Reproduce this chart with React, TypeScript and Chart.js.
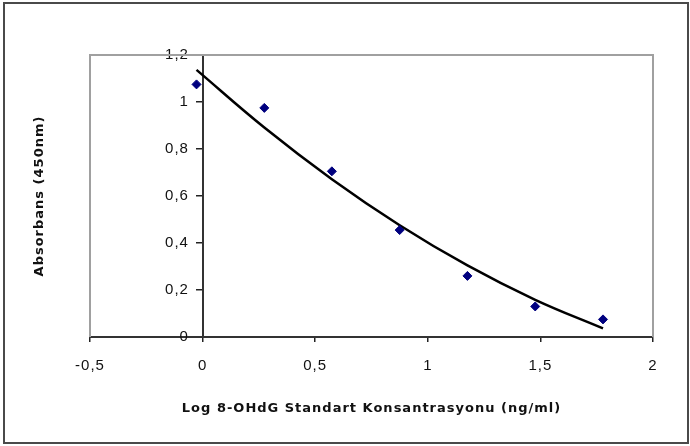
import { useEffect, useRef } from 'react';
import { Chart, registerables } from 'chart.js';

Chart.register(...registerables);

// Log concentration (ng/ml) of the standards and their absorbance at 450nm
const logConcentration = [-0.027, 0.274, 0.574, 0.875, 1.176, 1.477, 1.778];
const absorbance = [1.075, 0.975, 0.705, 0.455, 0.26, 0.13, 0.075];

const xTickValues = [-0.5, 0, 0.5, 1, 1.5, 2];
const yTickValues = [0, 0.2, 0.4, 0.6, 0.8, 1, 1.2];

const xTitle = 'Log 8-OHdG Standart Konsantrasyonu (ng/ml)';
const yTitle = 'Absorbans (450nm)';

// Second-order polynomial trendline (least squares) from the data above
function quadraticFit(xs: number[], ys: number[]) {
  let s0 = 0, s1 = 0, s2 = 0, s3 = 0, s4 = 0, t0 = 0, t1 = 0, t2 = 0;
  for (let i = 0; i < xs.length; i++) {
    const x = xs[i], y = ys[i];
    s0 += 1; s1 += x; s2 += x * x; s3 += x * x * x; s4 += x * x * x * x;
    t0 += y; t1 += x * y; t2 += x * x * y;
  }
  const m = [
    [s0, s1, s2, t0],
    [s1, s2, s3, t1],
    [s2, s3, s4, t2],
  ];
  for (let c = 0; c < 3; c++) {
    for (let r = c + 1; r < 3; r++) {
      const f = m[r][c] / m[c][c];
      for (let k = c; k < 4; k++) m[r][k] -= f * m[c][k];
    }
  }
  const sol = [0, 0, 0];
  for (let r = 2; r >= 0; r--) {
    let v = m[r][3];
    for (let k = r + 1; k < 3; k++) v -= m[r][k] * sol[k];
    sol[r] = v / m[r][r];
  }
  return (x: number) => sol[0] + sol[1] * x + sol[2] * x * x;
}

const fmt = (v: number) => {
  const s = Number(v.toFixed(1)).toString();
  return s.replace('.', ',');
};

const TICK_FONT = 'Liberation Sans, Arial, sans-serif';
const TITLE_FONT = 'DejaVu Sans, Verdana, sans-serif';

export default function App() {
  const ref = useRef<HTMLCanvasElement>(null);

  useEffect(() => {
    document.body.style.margin = '0';
    const fit = quadraticFit(logConcentration, absorbance);
    const trend = logConcentration.map((x) => ({ x, y: fit(x) }));
    const points = logConcentration.map((x, i) => ({ x, y: absorbance[i] }));

    const setSpacing = (chart: any) => {
      (chart.ctx as any).letterSpacing = '1px';
    };

    const framePlugin = {
      id: 'frame',
      beforeUpdate: setSpacing,
      beforeDraw: setSpacing,
      beforeDatasetsDraw(chart: any) {
        const { ctx, chartArea: a } = chart;
        ctx.save();
        ctx.strokeStyle = '#a0a0a0';
        ctx.lineWidth = 2;
        ctx.beginPath();
        ctx.moveTo(a.left, a.bottom);
        ctx.lineTo(a.left, a.top);
        ctx.lineTo(a.right, a.top);
        ctx.lineTo(a.right, a.bottom);
        ctx.stroke();
        ctx.restore();
      },
      afterDraw(chart: any) {
        const { ctx } = chart;
        ctx.save();
        ctx.strokeStyle = '#4a4a4a';
        ctx.lineWidth = 2;
        ctx.strokeRect(4, 3, 684, 440);
        ctx.restore();
      },
    };

    const chart = new Chart(ref.current!, {
      type: 'scatter',
      data: {
        datasets: [
          {
            label: 'Trend',
            type: 'line',
            data: trend,
            borderColor: '#000000',
            borderWidth: 2.5,
            pointRadius: 0,
            tension: 0.4,
            fill: false,
            order: 1,
          },
          {
            label: 'Absorbans',
            data: points,
            pointStyle: 'rectRot',
            pointRadius: 4.5,
            backgroundColor: '#00007f',
            borderColor: '#00007f',
            borderWidth: 1,
            order: 0,
          },
        ],
      },
      options: {
        responsive: false,
        animation: false,
        layout: { padding: { top: 55, right: 37, bottom: 0, left: 0 } },
        plugins: {
          legend: { display: false },
          tooltip: { enabled: false },
        },
        scales: {
          x: {
            type: 'linear',
            position: 'bottom',
            min: -0.5,
            max: 2,
            afterBuildTicks: (s: any) => {
              s.ticks = xTickValues.map((v) => ({ value: v }));
            },
            afterFit: (s: any) => {
              s.height = 109;
            },
            ticks: {
              callback: (v: any) => fmt(Number(v)),
              color: '#111',
              font: { family: TICK_FONT, size: 15 },
              padding: 15,
            },
            grid: {
              display: true,
              drawOnChartArea: false,
              drawTicks: true,
              tickLength: 5,
              color: '#222',
              lineWidth: 1.5,
            },
            border: { display: true, color: '#333', width: 2 },
            title: {
              display: true,
              text: xTitle,
              color: '#111',
              font: { family: TITLE_FONT, size: 13, weight: 'bold' },
              padding: { top: 0, bottom: 30 },
            },
          },
          y: {
            type: 'linear',
            position: { x: 0 } as any,
            min: 0,
            max: 1.2,
            afterBuildTicks: (s: any) => {
              s.ticks = yTickValues.map((v) => ({ value: v }));
            },
            ticks: {
              callback: (v: any) => fmt(Number(v)) + '\u2002 ',
              color: '#111',
              font: { family: TICK_FONT, size: 15 },
              padding: 8,
            },
            grid: {
              display: true,
              drawOnChartArea: false,
              drawTicks: true,
              tickLength: 6,
              color: '#222',
              lineWidth: 1.5,
            },
            border: { display: true, color: '#333', width: 2 },
          },
          yTitleAxis: {
            type: 'linear',
            position: 'left',
            min: 0,
            max: 1.2,
            afterFit: (s: any) => {
              s.width = 90;
            },
            ticks: { display: false },
            grid: { display: false, drawTicks: false },
            border: { display: false },
            title: {
              display: true,
              text: yTitle,
              color: '#111',
              font: { family: TITLE_FONT, size: 13, weight: 'bold' },
              padding: { top: 32, bottom: 0 },
            },
          },
        },
      },
      plugins: [framePlugin],
    } as any);

    return () => chart.destroy();
  }, []);

  return <canvas ref={ref} width={690} height={446} style={{ display: 'block' }} />;
}
